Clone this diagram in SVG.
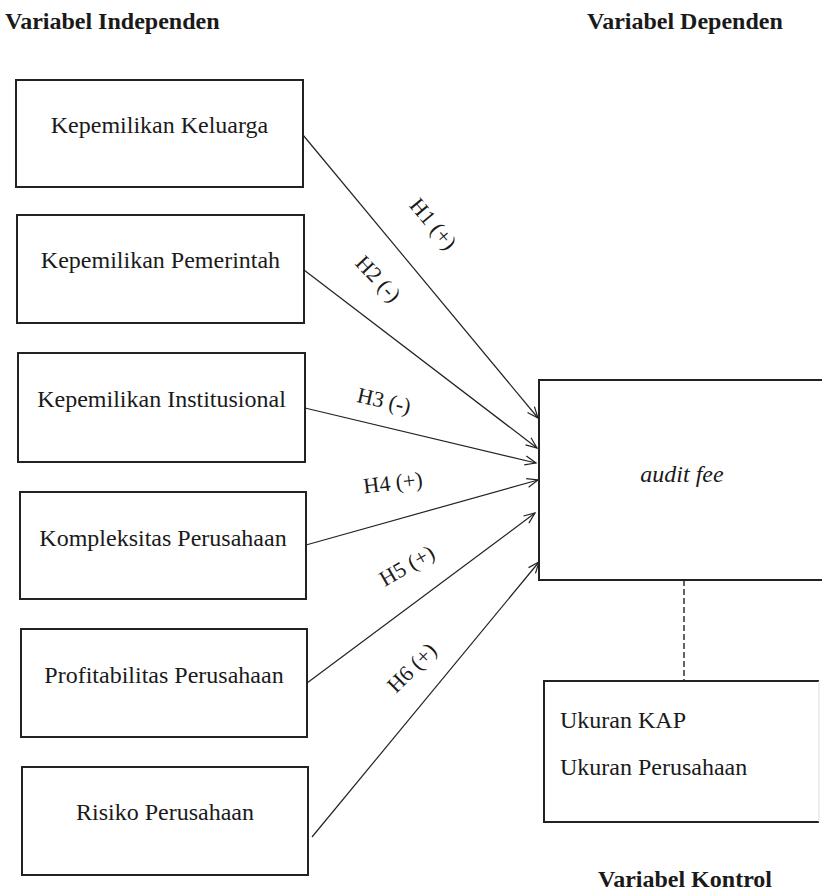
<svg xmlns="http://www.w3.org/2000/svg" width="822" height="892" viewBox="0 0 822 892">
<style>
text{font-family:"Liberation Serif","Times New Roman",serif;fill:#1a1a1a}
.box{fill:#fff;stroke:#222;stroke-width:2}
.lbl{font-size:24px;text-anchor:middle}
.hyp{font-size:22px;text-anchor:middle}
.head{font-weight:bold;font-size:24px}
.conn{stroke:#222;stroke-width:1.2;fill:none}
</style>
<defs>
<marker id="arr" viewBox="0 0 12 10" refX="11" refY="5" markerWidth="12" markerHeight="10" markerUnits="userSpaceOnUse" orient="auto" overflow="visible">
<path d="M0,0.5 L11,5 L0,9.5" fill="none" stroke="#222" stroke-width="1.2"/>
</marker>
</defs>
<rect width="822" height="892" fill="#fff"/>
<text class="head" x="5" y="29">Variabel Independen</text>
<text class="head" x="587" y="29">Variabel Dependen</text>
<text class="head" x="598" y="887">Variabel Kontrol</text>

<g id="n1"><rect class="box" x="16" y="80" width="287" height="107"/><text class="lbl" x="159.5" y="133">Kepemilikan Keluarga</text></g>
<g id="n2"><rect class="box" x="17" y="215" width="287" height="108"/><text class="lbl" x="160.5" y="268">Kepemilikan Pemerintah</text></g>
<g id="n3"><rect class="box" x="18" y="353" width="287" height="109"/><text class="lbl" x="161.5" y="407">Kepemilikan Institusional</text></g>
<g id="n4"><rect class="box" x="20" y="492" width="286" height="107"/><text class="lbl" x="163" y="546">Kompleksitas Perusahaan</text></g>
<g id="n5"><rect class="box" x="21" y="629" width="286" height="108"/><text class="lbl" x="164" y="683">Profitabilitas Perusahaan</text></g>
<g id="n6"><rect class="box" x="22" y="767" width="286" height="108"/><text class="lbl" x="165" y="820">Risiko Perusahaan</text></g>

<g id="audit"><rect class="box" x="539" y="380" width="290" height="200"/><text class="lbl" x="682" y="482" font-style="italic">audit fee</text></g>

<g id="kontrol"><path d="M819,681 L544,681 L544,822 L819,822" fill="#fff" stroke="#222" stroke-width="2"/><line x1="819" y1="681" x2="819" y2="822" stroke="#ddd" stroke-width="1"/>
<text x="560" y="728" style="font-size:24px">Ukuran KAP</text>
<text x="560" y="775" style="font-size:24px">Ukuran Perusahaan</text></g>

<g id="connectors">
<line class="conn" x1="303" y1="135" x2="538" y2="418" marker-end="url(#arr)"/>
<line class="conn" x1="304" y1="270" x2="537" y2="448" marker-end="url(#arr)"/>
<line class="conn" x1="305" y1="408" x2="536" y2="463" marker-end="url(#arr)"/>
<line class="conn" x1="306" y1="545" x2="538" y2="480" marker-end="url(#arr)"/>
<line class="conn" x1="307" y1="683" x2="535" y2="513" marker-end="url(#arr)"/>
<line class="conn" x1="312" y1="837" x2="539" y2="562" marker-end="url(#arr)"/>
<line x1="684" y1="580" x2="684" y2="681" stroke="#222" stroke-width="1.4" stroke-dasharray="6,3"/>
<text class="hyp" transform="translate(433,224) rotate(50)" y="7">H1 (+)</text>
<text class="hyp" transform="translate(378,279) rotate(47)" y="7">H2 (-)</text>
<text class="hyp" transform="translate(384,401) rotate(13)" y="7">H3 (-)</text>
<text class="hyp" transform="translate(393,483) rotate(-7)" y="7">H4 (+)</text>
<text class="hyp" transform="translate(407,566) rotate(-30)" y="7">H5 (+)</text>
<text class="hyp" transform="translate(412,668) rotate(-45)" y="7">H6 (+)</text>
</g>
</svg>
